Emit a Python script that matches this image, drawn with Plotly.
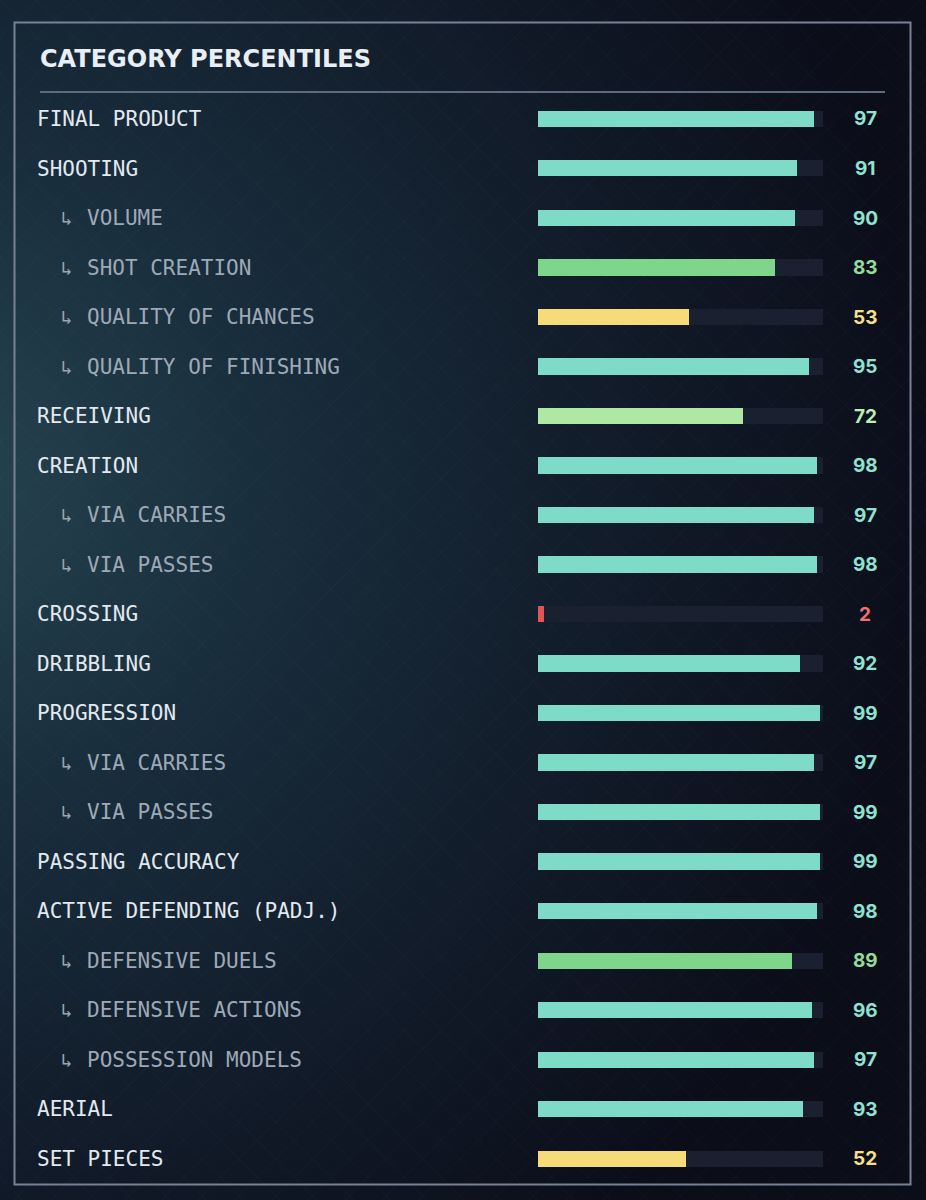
import base64
import plotly.graph_objects as go

# ---------------- data ----------------
labels = ["FINAL PRODUCT", "SHOOTING", "VOLUME", "SHOT CREATION", "QUALITY OF CHANCES",
          "QUALITY OF FINISHING", "RECEIVING", "CREATION", "VIA CARRIES", "VIA PASSES",
          "CROSSING", "DRIBBLING", "PROGRESSION", "VIA CARRIES", "VIA PASSES",
          "PASSING ACCURACY", "ACTIVE DEFENDING (PADJ.)", "DEFENSIVE DUELS",
          "DEFENSIVE ACTIONS", "POSSESSION MODELS", "AERIAL", "SET PIECES"]
is_sub = [0, 0, 1, 1, 1, 1, 0, 0, 1, 1, 0, 0, 0, 1, 1, 0, 0, 1, 1, 1, 0, 0]
values = [97, 91, 90, 83, 53, 95, 72, 98, 97, 98, 2, 92, 99, 97, 99, 99, 98, 89, 96, 97, 93, 52]
title = "CATEGORY PERCENTILES"
max_value = 100

# ---------------- styling ----------------
W, H = 926, 1200


def bar_color(v):
    if v >= 90:
        return "#7ddbc8"
    if v >= 80:
        return "#7dd68b"
    if v >= 70:
        return "#afe8a5"
    if v >= 40:
        return "#f6dc79"
    return "#e05656"


def text_color(v):
    if v >= 90:
        return "#8fe3d2"
    if v >= 80:
        return "#92dc9c"
    if v >= 70:
        return "#bdeeb3"
    if v >= 40:
        return "#f7e08a"
    return "#ee7272"


n = len(values)
idx = list(range(n))

svg = f'''<svg xmlns="http://www.w3.org/2000/svg" width="{W}" height="{H}" viewBox="0 0 {W} {H}">
<defs>
<radialGradient id="g" gradientUnits="userSpaceOnUse" cx="-60" cy="480" r="1000">
<stop offset="0" stop-color="#26444f"/>
<stop offset="0.35" stop-color="#182c3b"/>
<stop offset="0.7" stop-color="#111a28"/>
<stop offset="1" stop-color="#0b0d19"/>
</radialGradient>
<pattern id="p" width="26" height="26" patternUnits="userSpaceOnUse" patternTransform="rotate(45)">
<path d="M0 0 H26 M0 0 V26" stroke="#9fb8c8" stroke-opacity="0.05" stroke-width="1" fill="none"/>
</pattern>
</defs>
<rect width="{W}" height="{H}" fill="url(#g)"/>
<rect width="{W}" height="{H}" fill="url(#p)"/>
</svg>'''
bg_src = "data:image/svg+xml;base64," + base64.b64encode(svg.encode()).decode()

fig = go.Figure()
# track
fig.add_trace(go.Bar(
    y=idx, x=[max_value] * n, orientation="h", width=0.33,
    marker=dict(color="#1a2030", line=dict(width=0)),
    hoverinfo="skip", showlegend=False,
))
# values
fig.add_trace(go.Bar(
    y=idx, x=values, orientation="h", width=0.33,
    marker=dict(color=[bar_color(v) for v in values], line=dict(width=0)),
    hoverinfo="skip", showlegend=False,
))

# y domain: row centres at 119px .. 1159px from top
first_c, last_c = 119, 1159
step = (last_c - first_c) / (n - 1)
top_px = first_c - step / 2
bot_px = last_c + step / 2

annotations = []
for i, (lab, sub, v) in enumerate(zip(labels, is_sub, values)):
    if sub:
        annotations.append(dict(
            x=59 / W, xref="paper", y=i, yref="y", text="↳", showarrow=False,
            xanchor="left", yanchor="middle",
            font=dict(family="DejaVu Sans Mono", size=19, color="#9aa6b4")))
        annotations.append(dict(
            x=85 / W, xref="paper", y=i, yref="y", text=lab, showarrow=False,
            xanchor="left", yanchor="middle",
            font=dict(family="DejaVu Sans Mono", size=21, color="#9ea9b8")))
    else:
        annotations.append(dict(
            x=35 / W, xref="paper", y=i, yref="y", text=lab, showarrow=False,
            xanchor="left", yanchor="middle",
            font=dict(family="DejaVu Sans Mono", size=21, color="#e3e9f0")))
    annotations.append(dict(
        x=865 / W, xref="paper", y=i, yref="y", text=f"<b>{v}</b>", showarrow=False,
        xanchor="center", yanchor="middle",
        font=dict(family="Inter", size=19, color=text_color(v))))

annotations.append(dict(
    x=38 / W, xref="paper", y=1 - 59 / H, yref="paper", text=f"<b>{title}</b>",
    showarrow=False, xanchor="left", yanchor="middle",
    font=dict(family="DejaVu Sans", size=24, color="#e9eef5")))

shapes = [
    dict(type="rect", xref="paper", yref="paper",
         x0=14.5 / W, x1=910.5 / W, y0=1 - 22.5 / H, y1=1 - 1184.5 / H,
         line=dict(color="#788294", width=2), fillcolor="rgba(0,0,0,0)", layer="below"),
    dict(type="line", xref="paper", yref="paper",
         x0=40 / W, x1=885 / W, y0=1 - 92 / H, y1=1 - 92 / H,
         line=dict(color="#5e6b7c", width=2)),
]

fig.update_layout(
    width=W, height=H,
    margin=dict(l=0, r=0, t=0, b=0),
    paper_bgcolor="#111a27", plot_bgcolor="rgba(0,0,0,0)",
    barmode="overlay", bargap=0,
    xaxis=dict(range=[0, max_value], domain=[538 / W, 823 / W], visible=False, fixedrange=True),
    yaxis=dict(range=[n - 0.5, -0.5], domain=[1 - bot_px / H, 1 - top_px / H],
               visible=False, fixedrange=True),
    annotations=annotations,
    shapes=shapes,
    images=[dict(source=bg_src, xref="paper", yref="paper", x=0, y=1, sizex=1, sizey=1,
                 sizing="stretch", layer="below", xanchor="left", yanchor="top")],
    showlegend=False,
)

fig.write_html("out.html", config={"displayModeBar": False},
               post_script="document.body.style.margin='0';document.body.style.overflow='hidden';")
